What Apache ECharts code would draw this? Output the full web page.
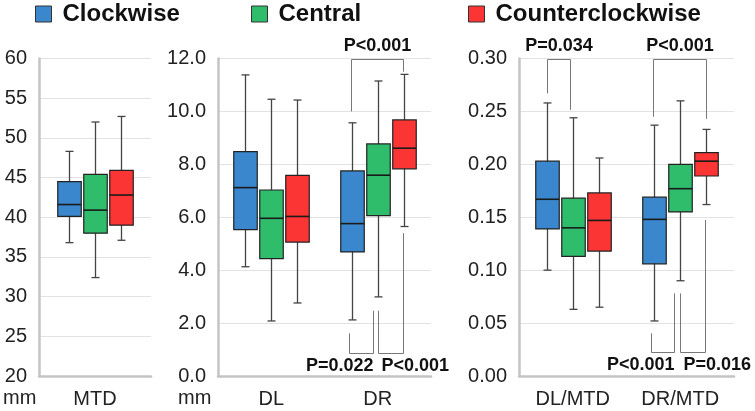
<!DOCTYPE html>
<html lang="en">
<head>
<meta charset="UTF-8">
<title>Clockwise / Central / Counterclockwise boxplots</title>
<style>
  html, body { margin: 0; padding: 0; background: #fff; }
  #main { width: 755px; height: 411px; }
</style>
<script src="https://cdn.jsdelivr.net/npm/echarts@6.0.0/dist/echarts.min.js"></script>
</head>
<body>
<div id="main"></div>
<script>
var groups = ['Clockwise', 'Central', 'Counterclockwise'];
var groupColors = ['#3a87cd', '#2fbd6c', '#fb3434'];

// box stats per group: [min, Q1, median, Q3, max]
var mtdBoxes = [
  [36.8, 40.1, 41.6, 44.5, 48.3],
  [32.4, 38.0, 40.9, 45.4, 52.0],
  [37.1, 39.0, 42.8, 45.9, 52.7]
];
var dlBoxes = [
  [4.13, 5.53, 7.12, 8.48, 11.38],
  [2.08, 4.44, 5.96, 7.03, 10.46],
  [2.76, 5.06, 6.03, 7.58, 10.43]
];
var drBoxes = [
  [2.12, 4.69, 5.76, 7.75, 9.57],
  [2.99, 6.06, 7.59, 8.77, 11.15],
  [5.65, 7.83, 8.61, 9.68, 11.4]
];
var dlMtdBoxes = [
  [0.100, 0.139, 0.167, 0.203, 0.258],
  [0.063, 0.113, 0.140, 0.168, 0.244],
  [0.065, 0.118, 0.147, 0.173, 0.206]
];
var drMtdBoxes = [
  [0.052, 0.106, 0.148, 0.169, 0.237],
  [0.090, 0.155, 0.177, 0.200, 0.260],
  [0.162, 0.189, 0.203, 0.211, 0.233]
];

// significance brackets: [category, left slot, right slot, left leg end, bar level, right leg end]
var lenBrackets = [
  [1, -1.03, 0.96, 10.0, 12.0, 11.5],
  [1, -1.13, -0.19, 1.61, 0.86, 2.47],
  [1, 0, 0.96, 2.47, 0.86, 5.4]
];
var lenPValues = ['P<0.001', 'P=0.022', 'P<0.001'];
var ratioBrackets = [
  [0, -1.0, -0.12, 0.267, 0.30, 0.2515],
  [1, -1.05, 1.0, 0.245, 0.30, 0.243],
  [1, -1.13, -0.25, 0.0404, 0.023, 0.078],
  [1, 0, 0.94, 0.078, 0.023, 0.1475]
];
var ratioPValues = ['P=0.034', 'P<0.001', 'P<0.001', 'P=0.016'];

var FONT = 'Liberation Sans, Arial, sans-serif';
var BOX_STEP = 25.8;
var BOX_W = 23.5;

var chart = echarts.init(document.getElementById('main'));

function boxItem(slot) {
  return function (params, api) {
    var c = api.value(0);
    var x = Math.round(api.coord([c, 0])[0] + slot * BOX_STEP) + 0.5;
    var y = [1, 2, 3, 4, 5].map(function (d) { return api.coord([c, api.value(d)])[1]; });
    var h = BOX_W / 2;
    var line = { stroke: '#444', lineWidth: 1.3 };
    return {
      type: 'group',
      children: [
        { type: 'line', shape: { x1: x, y1: y[4], x2: x, y2: y[0] }, style: line },
        { type: 'line', shape: { x1: x - 4, y1: y[4], x2: x + 4, y2: y[4] }, style: line },
        { type: 'line', shape: { x1: x - 4, y1: y[0], x2: x + 4, y2: y[0] }, style: line },
        { type: 'rect', shape: { x: x - h, y: y[3], width: BOX_W, height: y[1] - y[3] },
          style: { fill: api.visual('color'), stroke: '#222', lineWidth: 1.2 } },
        { type: 'line', shape: { x1: x - h, y1: y[2], x2: x + h, y2: y[2] },
          style: { stroke: '#1a1a1a', lineWidth: 1.6 } }
      ]
    };
  };
}

function bracketItem(labels) {
  return function (params, api) {
    var c = api.value(0);
    var cx = api.coord([c, 0])[0];
    var xl = Math.round(cx + api.value(1) * BOX_STEP) + 0.5;
    var xr = Math.round(cx + api.value(2) * BOX_STEP) + 0.5;
    var yl = api.coord([c, api.value(3)])[1];
    var yb = Math.round(api.coord([c, api.value(4)])[1]) + 0.5;
    var yr = api.coord([c, api.value(5)])[1];
    var above = yb < yl;
    var tx, align;
    if (above) { tx = (xl + xr) / 2; align = 'center'; }
    else if (api.value(1) + api.value(2) < 0) { tx = xr; align = 'right'; }
    else { tx = xl + 3; align = 'left'; }
    return {
      type: 'group',
      children: [
        { type: 'polyline', shape: { points: [[xl, yl], [xl, yb], [xr, yb], [xr, yr]] },
          style: { stroke: '#777', lineWidth: 1, fill: 'none' } },
        { type: 'text', style: { text: labels[params.dataIndex], x: tx, y: above ? yb - 13 : yb + 13,
          align: align, verticalAlign: 'middle', font: 'bold 18px ' + FONT, fill: '#111' } }
      ]
    };
  };
}

var panels = [
  { cats: ['MTD'], boxes: [mtdBoxes], min: 20, max: 60, step: 5, dec: 0,
    grid: { left: 39, width: 112 }, brackets: null, pvals: null },
  { cats: ['DL', 'DR'], boxes: [dlBoxes, drBoxes], min: 0, max: 12, step: 2, dec: 1,
    grid: { left: 218, width: 213 }, brackets: lenBrackets, pvals: lenPValues },
  { cats: ['DL/MTD', 'DR/MTD'], boxes: [dlMtdBoxes, drMtdBoxes], min: 0, max: 0.3, step: 0.05, dec: 2,
    grid: { left: 519, width: 215 }, brackets: ratioBrackets, pvals: ratioPValues }
];

var grids = [], xAxes = [], yAxes = [], series = [];
var axisLineStyle = { color: '#c4c4c4', width: 2.5 };

panels.forEach(function (p, pi) {
  grids.push({ left: p.grid.left, width: p.grid.width, top: 58.5, height: 317.5 });
  xAxes.push({
    type: 'category', gridIndex: pi, data: p.cats,
    axisLine: { lineStyle: axisLineStyle }, axisTick: { show: false },
    axisLabel: { fontSize: 20, fontFamily: FONT, color: '#222', margin: 13 }
  });
  yAxes.push({
    type: 'value', gridIndex: pi, min: p.min, max: p.max, interval: p.step,
    axisLine: { show: true, lineStyle: axisLineStyle }, axisTick: { show: false },
    splitLine: { lineStyle: { color: '#e2e2e2', width: 1 } },
    axisLabel: { fontSize: 20, fontFamily: FONT, color: '#222', margin: 12,
      formatter: function (v) { return v.toFixed(p.dec); } }
  });
  groups.forEach(function (g, gi) {
    series.push({
      type: 'custom', name: g, xAxisIndex: pi, yAxisIndex: pi,
      itemStyle: { color: groupColors[gi] },
      encode: { x: 0, y: [1, 2, 3, 4, 5] },
      renderItem: boxItem(gi - 1),
      data: p.cats.map(function (c, ci) { return [ci].concat(p.boxes[ci][gi]); })
    });
  });
  if (p.brackets) {
    series.push({
      type: 'custom', name: 'p-values', xAxisIndex: pi, yAxisIndex: pi, silent: true,
      encode: { x: 0, y: [3, 4, 5] },
      renderItem: bracketItem(p.pvals),
      data: p.brackets, z: 5
    });
  }
});

var legendLeft = [35, 251, 468];

chart.setOption({
  animation: false,
  textStyle: { fontFamily: FONT },
  legend: groups.map(function (g, i) {
    return {
      left: legendLeft[i], top: 2, padding: 0, icon: 'rect',
      itemWidth: 16, itemHeight: 16, selectedMode: false,
      itemStyle: { borderColor: '#333', borderWidth: 1 },
      textStyle: { fontSize: 24, fontWeight: 'bold', color: '#111', fontFamily: FONT, padding: [0, 0, 0, 6] },
      data: [{ name: g, itemStyle: { color: groupColors[i] } }]
    };
  }),
  grid: grids,
  xAxis: xAxes,
  yAxis: yAxes,
  series: series,
  graphic: [
    { type: 'text', left: 3, top: 388, style: { text: 'mm', font: '20px ' + FONT, fill: '#222' } },
    { type: 'text', left: 178, top: 388, style: { text: 'mm', font: '20px ' + FONT, fill: '#222' } }
  ]
});
</script>
</body>
</html>
